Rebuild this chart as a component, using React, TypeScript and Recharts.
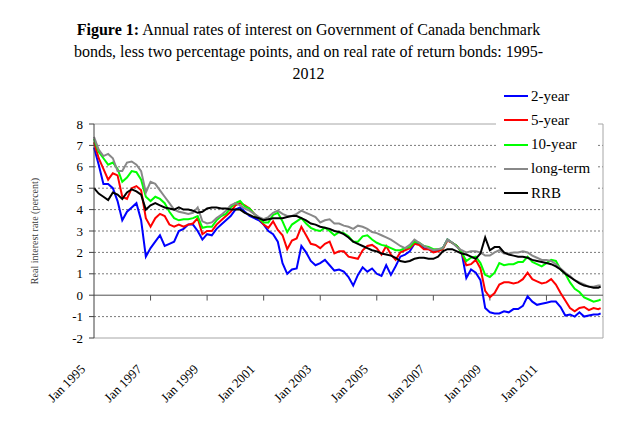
import React from 'react'
import { LineChart, Line, XAxis, YAxis, ReferenceLine } from 'recharts'

// Government of Canada benchmark bonds less 2pp, and RRB — sampled every 2 months from Jan 1995
const FONT = '"Liberation Serif", "Times New Roman", serif'

const MONTHS = [
  0, 2, 4, 6, 8, 10, 12, 14, 16, 18, 20, 22, 24, 26, 28, 30, 32, 34, 36,
  38, 40, 42, 44, 46, 48, 50, 52, 54, 56, 58, 60, 62, 64, 66, 68, 70,
  72, 74, 76, 78, 80, 82, 84, 86, 88, 90, 92, 94, 96, 98, 100, 102, 104, 106,
  108, 110, 112, 114, 116, 118, 120, 122, 124, 126, 128, 130, 132, 134, 136, 138, 140, 142,
  144, 146, 148, 150, 152, 154, 156, 158, 160, 162, 164, 166, 168, 170, 172, 174, 176, 178,
  180, 182, 184, 186, 188, 190, 192, 194, 196, 198, 200, 202, 204, 206, 208, 210, 212, 214, 215
]

const TWO_YEAR = [
  6.9, 6.1, 5.2, 5.2, 5.0, 4.4, 3.5, 3.9, 4.1, 4.3, 3.5, 1.8, 2.2, 2.5, 2.8, 2.3, 2.4, 2.5, 3.0,
  3.1, 3.3, 3.3, 3.0, 2.6, 2.85, 2.8, 3.1, 3.3, 3.5, 3.7, 4.0, 4.1, 3.9, 3.7, 3.6, 3.5,
  3.3, 3.0, 2.85, 2.5, 1.5, 1.0, 1.2, 1.25, 2.3, 2.0, 1.6, 1.4, 1.5, 1.65, 1.4, 1.15, 1.2, 1.1,
  0.85, 0.45, 0.95, 1.3, 1.1, 1.25, 1.0, 0.9, 1.4, 0.95, 1.35, 1.8, 1.9, 2.05, 2.4, 2.4, 2.2, 2.15,
  2.05, 2.1, 2.2, 2.6, 2.45, 2.3, 2.0, 0.8, 1.2, 1.05, 0.7, -0.6, -0.8, -0.85, -0.85, -0.75, -0.8, -0.65,
  -0.65, -0.5, -0.05, -0.3, -0.45, -0.4, -0.35, -0.3, -0.3, -0.55, -0.95, -0.9, -1.0, -0.8, -1.0, -0.95, -0.9, -0.9, -0.85
]

const FIVE_YEAR = [
  7.15, 6.4, 5.9, 5.4, 5.7, 5.6, 4.6, 4.5, 5.0, 5.1, 4.9, 3.6, 3.2, 3.6, 3.8, 3.7, 3.3, 3.2, 3.3,
  3.2, 3.3, 3.35, 3.6, 2.85, 3.0, 3.0, 3.3, 3.5, 3.7, 3.9, 4.2, 4.3, 4.2, 4.05, 3.8, 3.6,
  3.3, 3.15, 3.45, 3.05, 2.8, 2.15, 2.55, 2.65, 3.2, 2.8, 2.4, 2.35, 2.2, 2.4, 2.5, 1.95, 2.05, 2.05,
  1.8, 1.75, 1.7, 2.1, 2.3, 2.35, 2.2, 1.9, 2.3, 1.9, 1.65, 2.0, 2.1, 2.2, 2.4, 2.35, 2.15, 2.15,
  2.0, 2.05, 2.15, 2.55, 2.45, 2.3, 2.0, 1.4, 1.45, 1.65, 1.25, 0.2, -0.1, 0.1, 0.5, 0.6, 0.6, 0.55,
  0.6, 0.75, 1.05, 0.75, 0.65, 0.55, 0.6, 0.75, 0.5, 0.1, -0.25, -0.6, -0.75, -0.6, -0.55, -0.7, -0.6, -0.65, -0.6
]

const TEN_YEAR = [
  7.3, 6.7, 6.4, 6.1, 6.2, 5.9, 5.3, 5.5, 5.8, 5.75, 5.4, 4.6, 4.4, 4.6, 4.5, 4.3, 3.9, 3.6, 3.5,
  3.55, 3.55, 3.6, 3.7, 3.15, 3.2, 3.2, 3.5, 3.7, 3.8, 4.1, 4.3, 4.4, 4.15, 4.05, 3.8, 3.6,
  3.4, 3.4, 3.75, 3.85, 3.45, 2.95, 3.3, 3.45, 3.6, 3.35, 3.15, 3.05, 3.0, 3.15, 3.0, 2.8, 2.95, 2.9,
  2.75, 2.5, 2.5, 2.75, 2.8, 2.6, 2.45, 2.35, 2.3, 2.2, 2.1, 2.1, 2.2, 2.25, 2.5, 2.45, 2.3, 2.25,
  2.15, 2.15, 2.2, 2.6, 2.45, 2.3, 2.0, 1.6, 1.75, 1.8, 1.5, 0.95, 0.85, 1.05, 1.5, 1.4, 1.45, 1.45,
  1.55, 1.55, 1.8, 1.55, 1.45, 1.35, 1.5, 1.65, 1.6, 1.2, 1.0, 0.6, 0.3, 0.15, -0.1, -0.2, -0.3, -0.25, -0.2
]

const LONG_TERM = [
  7.4, 6.8, 6.5, 6.6, 6.4, 5.8, 5.8, 6.2, 6.25, 6.1, 5.8, 4.8, 5.3, 5.2, 4.9, 4.6, 4.3, 4.0, 3.9,
  3.85, 3.8, 3.85, 4.1, 3.45, 3.35, 3.4, 3.6, 3.75, 3.95, 4.2, 4.3, 4.2, 4.05, 3.95, 3.8, 3.65,
  3.55, 3.65, 3.85, 3.95, 3.8, 3.7, 3.7, 3.8, 3.95, 3.85, 3.75, 3.65, 3.4, 3.5, 3.55, 3.35, 3.35, 3.25,
  3.2, 3.1, 3.25, 3.2, 3.1, 2.95, 2.9, 2.8, 2.7, 2.6, 2.45, 2.3, 2.2, 2.35, 2.6, 2.45, 2.3, 2.2,
  2.1, 2.15, 2.2, 2.6, 2.45, 2.25, 2.1, 2.0, 2.05, 2.05, 2.0, 1.85, 1.85, 2.0, 2.1, 1.95, 1.95, 2.0,
  2.0, 2.05, 2.0, 1.85, 1.75, 1.65, 1.65, 1.6, 1.45, 1.25, 1.05, 0.9, 0.7, 0.6, 0.5, 0.4, 0.4, 0.45, 0.45
]

const RRB = [
  5.0, 4.75, 4.6, 4.45, 4.8, 4.7, 4.5, 4.8, 4.95, 4.85, 4.7, 4.0, 4.2, 4.3, 4.2, 4.1, 4.05, 4.0, 4.1,
  4.0, 4.0, 3.95, 3.85, 3.9, 4.05, 4.1, 4.1, 4.05, 4.05, 4.0, 4.0, 4.0, 3.85, 3.75, 3.65, 3.6,
  3.5, 3.55, 3.6, 3.6, 3.6, 3.65, 3.7, 3.7, 3.6, 3.5, 3.35, 3.3, 3.2, 3.15, 3.1, 3.0, 2.95, 2.85,
  2.7, 2.5, 2.4, 2.3, 2.2, 2.1, 2.05, 1.95, 1.9, 1.85, 1.75, 1.6, 1.55, 1.6, 1.7, 1.75, 1.75, 1.7,
  1.7, 1.8, 2.05, 2.15, 2.15, 2.05, 1.95, 1.9, 1.8, 1.7, 1.95, 2.7, 2.1, 2.25, 2.25, 2.0, 1.9, 1.85,
  1.8, 1.8, 1.75, 1.65, 1.6, 1.55, 1.5, 1.45, 1.35, 1.2, 1.0, 0.85, 0.7, 0.55, 0.45, 0.4, 0.35, 0.35, 0.4
]

const X_TICKS = [0, 24, 48, 72, 96, 120, 144, 168, 192]
const X_LABELS = ['Jan 1995', 'Jan 1997', 'Jan 1999', 'Jan 2001', 'Jan 2003', 'Jan 2005', 'Jan 2007', 'Jan 2009', 'Jan 2011']
const Y_TICKS = [-2, -1, 0, 1, 2, 3, 4, 5, 6, 7, 8]
const GRID_VALUES = [7, 6, 5, 4, 3, 2, 1, -1]

const SERIES = [
  { key: 'two', name: '2-year', color: '#0000ff' },
  { key: 'five', name: '5-year', color: '#ff0000' },
  { key: 'ten', name: '10-year', color: '#00ff00' },
  { key: 'long', name: 'long-term', color: '#888888' },
  { key: 'rrb', name: 'RRB', color: '#000000' }
]

const rows = MONTHS.map((m, i) => ({
  m,
  two: TWO_YEAR[i],
  five: FIVE_YEAR[i],
  ten: TEN_YEAR[i],
  long: LONG_TERM[i],
  rrb: RRB[i]
}))

const XTick = ({ x, y, payload }: any) => {
  const idx = X_TICKS.indexOf(payload.value)
  const ax = x - 8
  const ay = y + 30
  return (
    <text
      x={ax}
      y={ay}
      textAnchor="end"
      transform={`rotate(-45, ${ax}, ${ay})`}
      fontSize={13}
      fontFamily={FONT}
      fill="#000"
    >
      {X_LABELS[idx]}
    </text>
  )
}

export default function App() {
  return (
    <div style={{ position: 'absolute', left: 0, top: 0, width: 624, height: 431, background: '#fff', fontFamily: FONT }}>
      {/* title */}
      <div style={{ position: 'absolute', left: 0, top: 19, width: 617, textAlign: 'center', fontSize: 16, lineHeight: '22px', color: '#000' }}>
        <div><b>Figure 1:</b> Annual rates of interest on Government of Canada benchmark</div>
        <div>bonds, less two percentage points, and on real rate of return bonds: 1995-</div>
        <div>2012</div>
      </div>

      <LineChart width={624} height={431} data={rows} margin={{ top: 124, right: 21, bottom: 33, left: 34 }}>
        <XAxis
          type="number"
          dataKey="m"
          domain={[0, 216]}
          ticks={X_TICKS}
          interval={0}
          height={60}
          tickLine={false}
          tickSize={0}
          axisLine={{ stroke: '#a6a6a6' }}
          tick={<XTick />}
        />
        <YAxis
          domain={[-2, 8]}
          ticks={Y_TICKS}
          interval={0}
          width={60}
          tickSize={5}
          tickMargin={6}
          axisLine={{ stroke: '#404040' }}
          tickLine={{ stroke: '#404040' }}
          tick={{ fontSize: 13, fill: '#000', fontFamily: FONT }}
        />
        {GRID_VALUES.map(v => (
          <ReferenceLine key={v} y={v} stroke="#7a7a7a" strokeDasharray="2 2" />
        ))}
        <ReferenceLine y={8} stroke="#a6a6a6" />
        <ReferenceLine x={216} stroke="#a6a6a6" />
        <ReferenceLine y={0} stroke="#505050" />
        {X_TICKS.slice(1).map(m => (
          <ReferenceLine key={'t' + m} segment={[{ x: m, y: 0 }, { x: m, y: -0.25 }]} stroke="#505050" />
        ))}
        {SERIES.map(s => (
          <Line
            key={s.key}
            type="linear"
            dataKey={s.key}
            name={s.name}
            stroke={s.color}
            strokeWidth={2}
            dot={false}
            isAnimationActive={false}
          />
        ))}
      </LineChart>

      {/* y-axis title */}
      <div style={{ position: 'absolute', left: 34, top: 231, transform: 'translate(-50%, -50%) rotate(-90deg)', fontSize: 10, color: '#404040', whiteSpace: 'nowrap' }}>
        Real interest rate (percent)
      </div>

      {/* legend */}
      <div style={{ position: 'absolute', left: 496, top: 84, width: 102, height: 120, background: '#fff' }}>
        {SERIES.map((s, i) => (
          <div key={s.key} style={{ position: 'absolute', left: 0, top: i * 24.3, height: 24, display: 'flex', alignItems: 'center' }}>
            <div style={{ marginLeft: 8, width: 24, height: 2, background: s.color }} />
            <span style={{ marginLeft: 3, fontSize: 15, color: '#000' }}>{s.name}</span>
          </div>
        ))}
      </div>
    </div>
  )
}
